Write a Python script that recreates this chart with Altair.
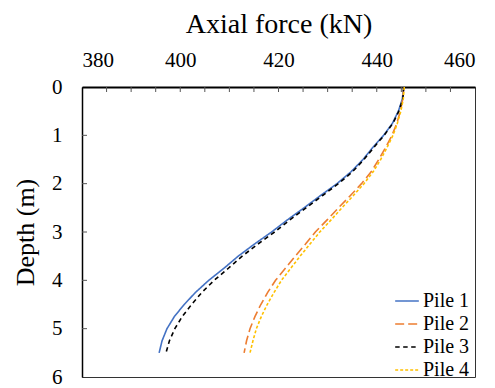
import altair as alt
import pandas as pd

depths = [0, 0.25, 0.5, 0.75, 1.0, 1.25, 1.5, 1.75, 2.0, 2.25, 2.5, 2.75,
          3.0, 3.25, 3.5, 3.75, 4.0, 4.25, 4.5, 4.75, 5.0, 5.25, 5.5]

pile1 = [445.5, 445.2, 444.4, 443.2, 441.4, 439.2, 437.2, 434.8, 431.9, 428.5, 425.2, 421.8,
         418.6, 415.1, 411.8, 408.9, 405.8, 403.1, 400.8, 398.8, 397.3, 396.3, 395.7]
pile2 = [445.5, 445.3, 444.8, 444.1, 443.1, 441.8, 440.4, 438.9, 436.9, 434.6, 432.2, 429.9,
         427.5, 425.5, 423.4, 421.4, 419.4, 417.8, 416.4, 415.2, 414.2, 413.5, 413.0]
pile3 = [445.5, 445.3, 444.5, 443.3, 441.5, 439.4, 437.4, 435.1, 432.2, 428.9, 425.6, 422.3,
         419.2, 415.8, 412.6, 409.8, 406.9, 404.4, 402.3, 400.4, 398.9, 397.8, 397.1]
pile4 = [445.6, 445.4, 444.9, 444.2, 443.3, 442.1, 440.8, 439.3, 437.4, 435.2, 432.9, 430.7,
         428.4, 426.4, 424.4, 422.5, 420.6, 419.1, 417.7, 416.5, 415.5, 414.8, 414.2]

pile_names = ["Pile 1", "Pile 2", "Pile 3", "Pile 4"]
pile_colors = ["#4472C4", "#ED7D31", "#000000", "#FFC000"]
pile_dashes = [[1, 0], [9, 4], [4.5, 3.5], [3, 2]]

x_labels = [380, 400, 420, 440, 460]
x_minor = list(range(385, 460, 5))
y_labels = [0, 1, 2, 3, 4, 5, 6]
y_minor = [1, 2, 3, 4, 5]

rows = []
for name, vals in zip(pile_names, [pile1, pile2, pile3, pile4]):
    for d, v in zip(depths, vals):
        rows.append({"pile": name, "depth": d, "force": v})
df = pd.DataFrame(rows)

SERIF = "Liberation Serif, Times New Roman, serif"

xscale = alt.Scale(domain=[380, 460], nice=False, zero=False)
yscale = alt.Scale(domain=[0, 6], reverse=True, nice=False, zero=False)

xaxis = alt.Axis(orient="top", values=x_labels, title="Axial force (kN)",
                 ticks=False, grid=False, labelPadding=17, titlePadding=11,
                 labelFont=SERIF, titleFont=SERIF, titleFontSize=28, domainWidth=2)
yaxis = alt.Axis(orient="left", values=y_labels, title="Depth (m)",
                 ticks=False, grid=False, labelPadding=20, titlePadding=13,
                 labelFont=SERIF, titleFont=SERIF, titleFontSize=26, domainWidth=1.5)

legend = alt.Legend(
    title=None, orient="none", legendX=312, legendY=201,
    symbolType="stroke", symbolSize=560, symbolStrokeWidth=1.6,
    labelFontSize=20, labelFont=SERIF, labelColor="black",
    rowPadding=0, labelOffset=3,
)

lines = alt.Chart(df).mark_line(strokeWidth=1.6).encode(
    x=alt.X("force:Q", scale=xscale, axis=xaxis),
    y=alt.Y("depth:Q", scale=yscale, axis=yaxis),
    color=alt.Color("pile:N", scale=alt.Scale(domain=pile_names, range=pile_colors), legend=legend),
    strokeDash=alt.StrokeDash("pile:N", scale=alt.Scale(domain=pile_names, range=pile_dashes), legend=legend),
    order="depth:Q",
)

xt = alt.Chart(pd.DataFrame({"force": x_minor})).mark_rule(color="#555", strokeWidth=1).encode(
    x=alt.X("force:Q", scale=xscale, axis=xaxis),
    y=alt.value(0), y2=alt.value(5),
)
yt = alt.Chart(pd.DataFrame({"depth": y_minor})).mark_rule(color="#555", strokeWidth=1).encode(
    y=alt.Y("depth:Q", scale=yscale, axis=yaxis),
    x=alt.value(0), x2=alt.value(5),
)

chart = alt.layer(lines, xt, yt).properties(
    width=393, height=290,
    autosize=alt.AutoSizeParams(type="none"),
    padding={"left": 74, "top": 79, "right": 12, "bottom": 9},
).configure(
    font=SERIF
).configure_view(
    stroke="#333", strokeWidth=1
).configure_axis(
    domainColor="black",
    labelFont=SERIF, titleFont=SERIF,
    labelFontSize=21, titleFontWeight="normal",
    labelColor="black", titleColor="black",
).configure_legend(
    labelFont=SERIF
)

chart.save("out.html", embed_options={"renderer": "svg", "actions": False})
